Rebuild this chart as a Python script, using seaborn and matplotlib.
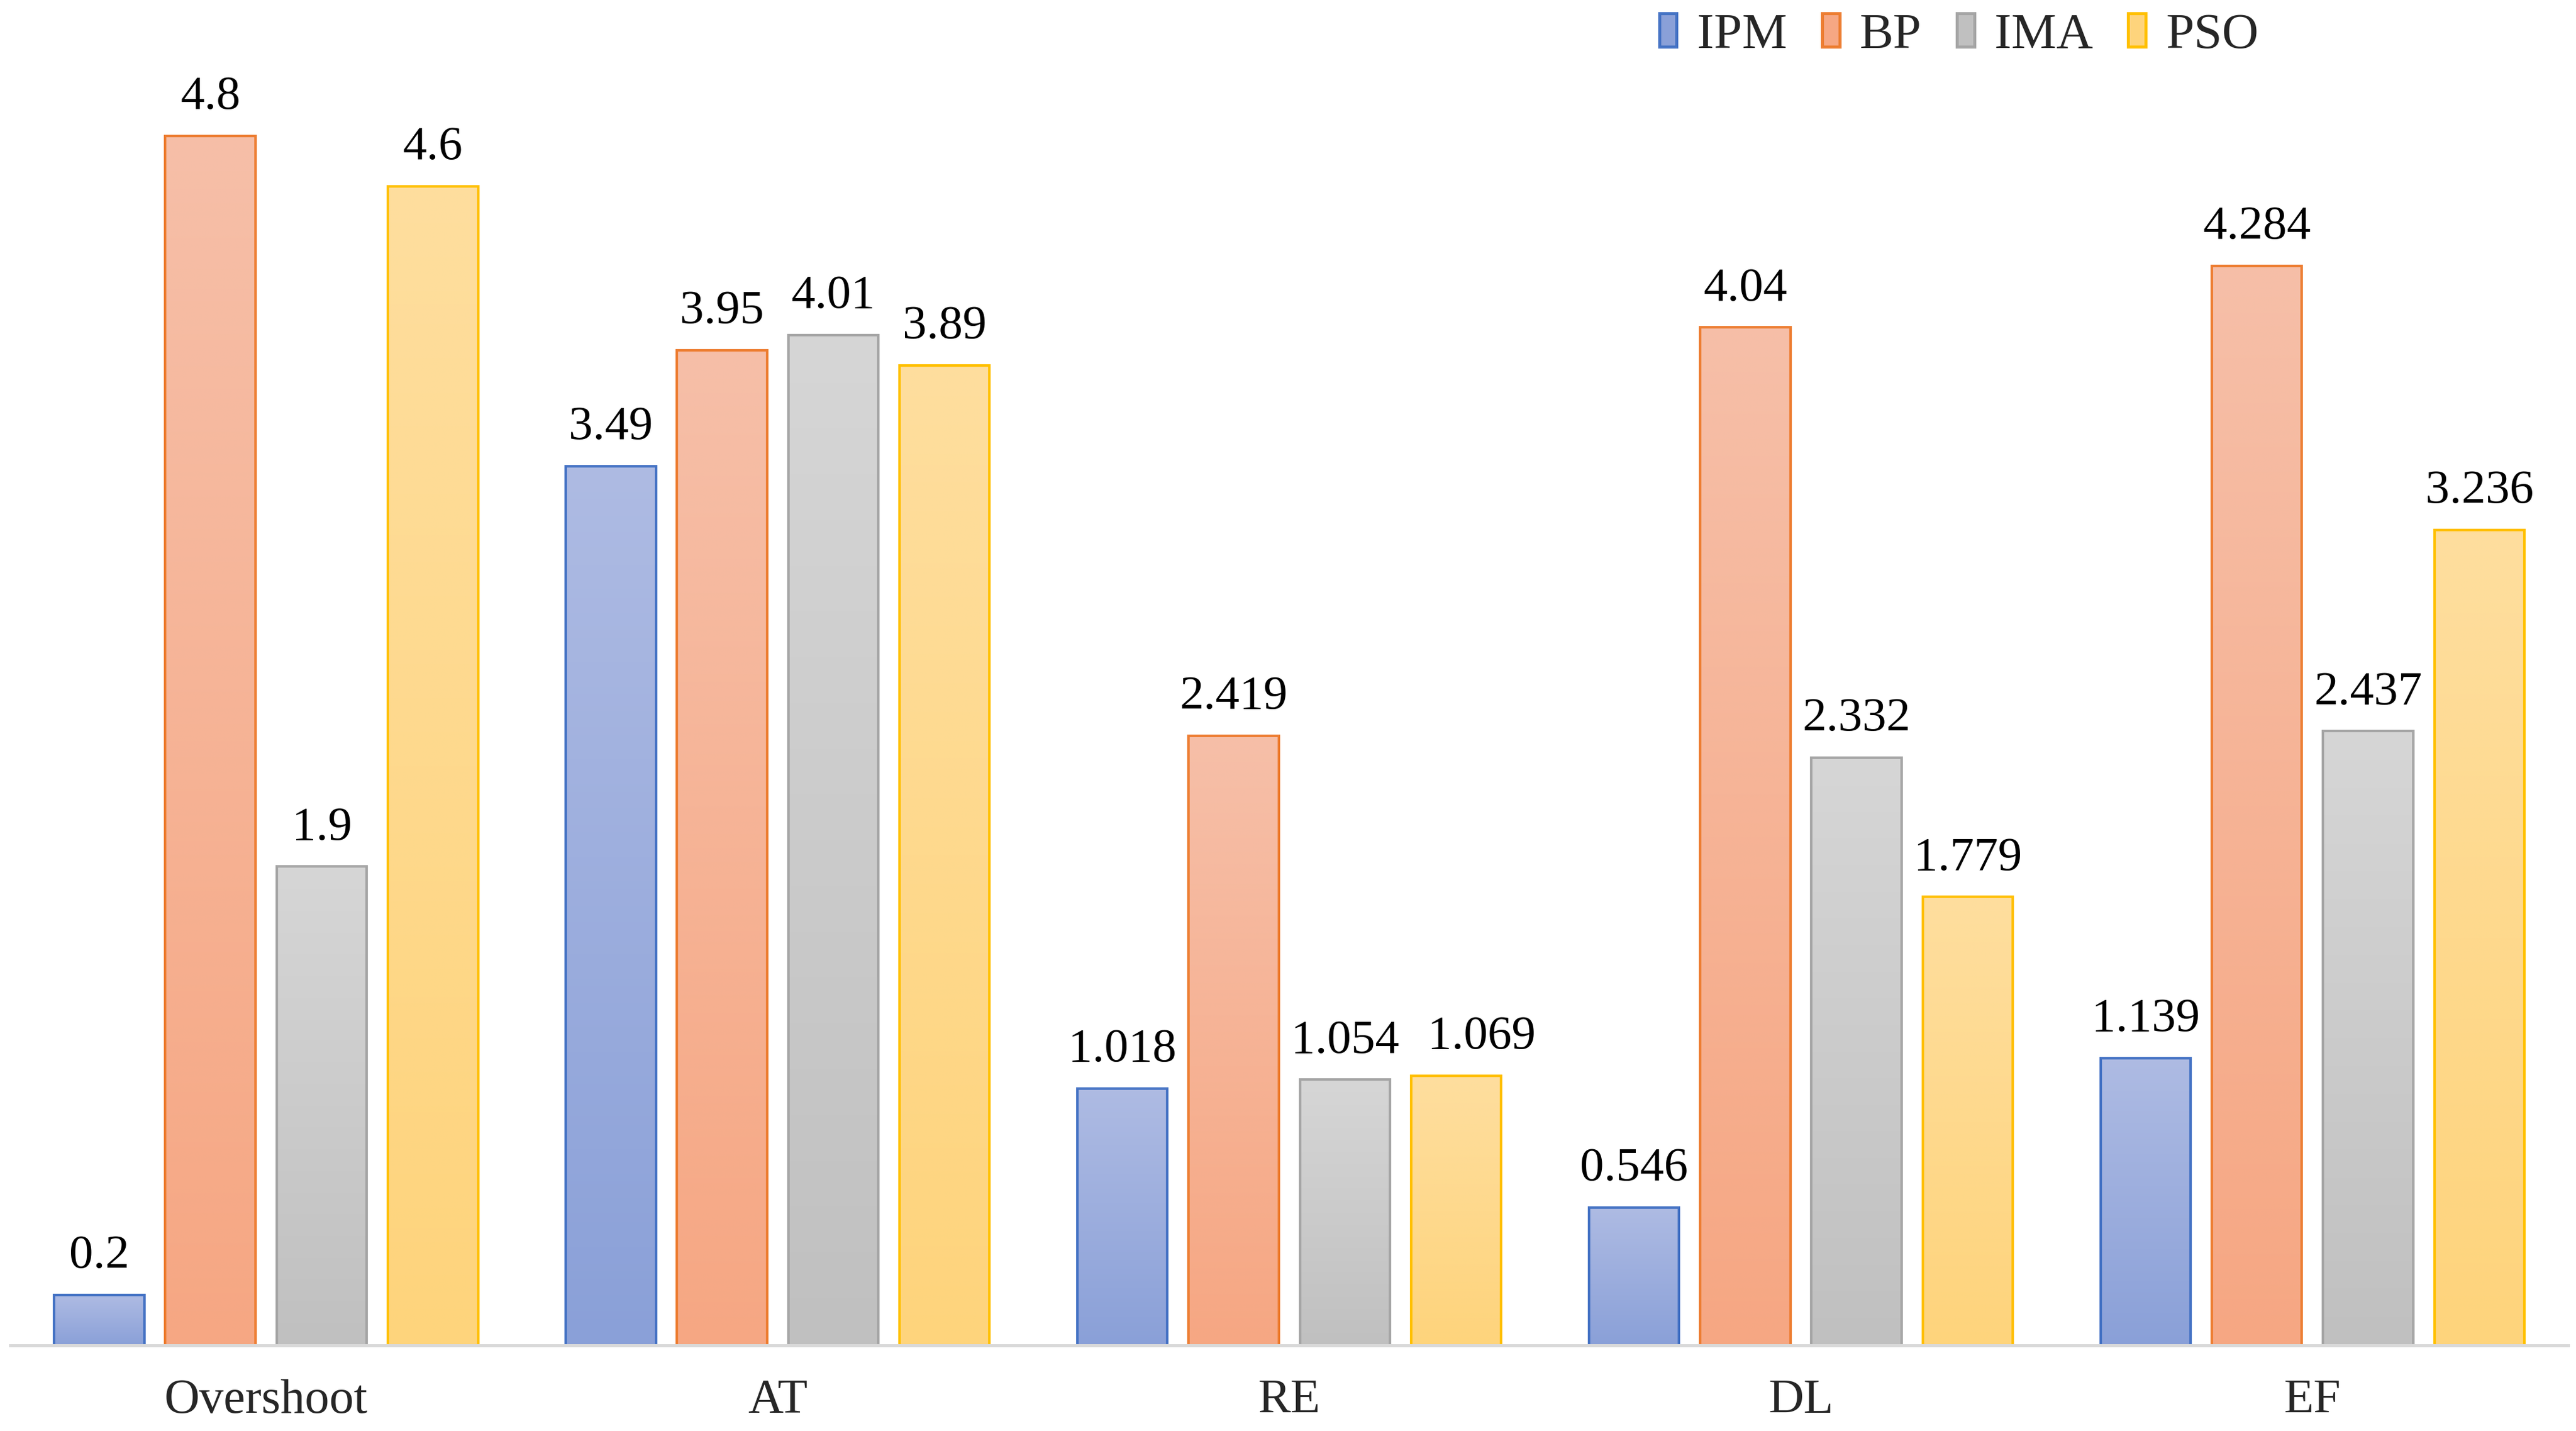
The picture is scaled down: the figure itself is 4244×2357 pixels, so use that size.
import numpy as np
import pandas as pd
import matplotlib
matplotlib.use("Agg")
import matplotlib.pyplot as plt
import matplotlib.patches as mpatches
from matplotlib.colors import to_rgb
import seaborn as sns

# datos del grafico
categorias = ["Overshoot", "AT", "RE", "DL", "EF"]
metodos = ["IPM", "BP", "IMA", "PSO"]
ipm = [0.2, 3.49, 1.018, 0.546, 1.139]
bp = [4.8, 3.95, 2.419, 4.04, 4.284]
ima = [1.9, 4.01, 1.054, 2.332, 2.437]
pso = [4.6, 3.89, 1.069, 1.779, 3.236]

# colores: borde, arriba, abajo (degradado tipo Excel)
bordes = ["#4472C4", "#ED7D31", "#A5A5A5", "#FFC000"]
arriba = ["#AEBBE3", "#F6BFA8", "#D6D6D6", "#FEDE9E"]
abajo = ["#8AA0D8", "#F6A783", "#C0C0C0", "#FED47C"]

df = pd.DataFrame({
    "categoria": categorias * 4,
    "metodo": sum([[m] * 5 for m in metodos], []),
    "valor": ipm + bp + ima + pso,
})

sns.set_style("white")
serif = ["Liberation Serif", "DejaVu Serif"]
plt.rcParams["font.family"] = serif

fig = plt.figure(figsize=(21.22, 11.785), dpi=200)
ax = fig.add_axes([0.004, 0.06, 0.993, 0.94])

sns.barplot(data=df, x="categoria", y="valor", hue="metodo", order=categorias,
            hue_order=metodos, palette=bordes, width=0.87, gap=0.19,
            linewidth=1.5, legend=False, ax=ax)

valores = [ipm, bp, ima, pso]
# etiqueta PSO en RE un poco corrida a la derecha (como en el original)
desplaza = {(3, 2): 15}
for i, cont in enumerate(ax.containers):
    c1 = np.array(to_rgb(arriba[i]))
    c2 = np.array(to_rgb(abajo[i]))
    t = np.linspace(0, 1, 256)[:, None]
    grad = (c2 * (1 - t) + c1 * t)[:, None, :]
    for j, bar in enumerate(cont):
        bar.set_facecolor("none")
        bar.set_edgecolor(bordes[i])
        bar.set_zorder(2)
        x, w, h = bar.get_x(), bar.get_width(), bar.get_height()
        im = ax.imshow(grad, extent=[x, x + w, 0, h], origin="lower",
                       aspect="auto", zorder=1, interpolation="bilinear")
        im.set_clip_path(bar)
        ax.annotate(str(valores[i][j]), (x + w / 2, h),
                    xytext=(desplaza.get((i, j), 0), 10),
                    textcoords="offset points", ha="center", va="bottom",
                    fontsize=28.5, color="black", family=serif)

ax.set_xlim(-0.5, 4.5)
ax.set_ylim(0, 5.34)
ax.set_xlabel("")
ax.set_ylabel("")
ax.set_yticks([])
ax.tick_params(axis="x", length=0, pad=20, labelsize=29)
for s in ["top", "left", "right"]:
    ax.spines[s].set_visible(False)
ax.spines["bottom"].set_color("#D9D9D9")
ax.spines["bottom"].set_linewidth(1.8)
ax.spines["bottom"].set_zorder(3)

handles = [mpatches.Patch(facecolor=abajo[i], edgecolor=bordes[i], linewidth=1.8,
                          label=metodos[i]) for i in range(4)]
fig.legend(handles=handles, loc="center", bbox_to_anchor=(0.7605, 0.975), ncol=4,
           frameon=False, fontsize=30, handlelength=0.34, handleheight=0.65,
           handletextpad=0.4, columnspacing=0.7, borderpad=0)

fig.savefig("out.png", dpi=200)
